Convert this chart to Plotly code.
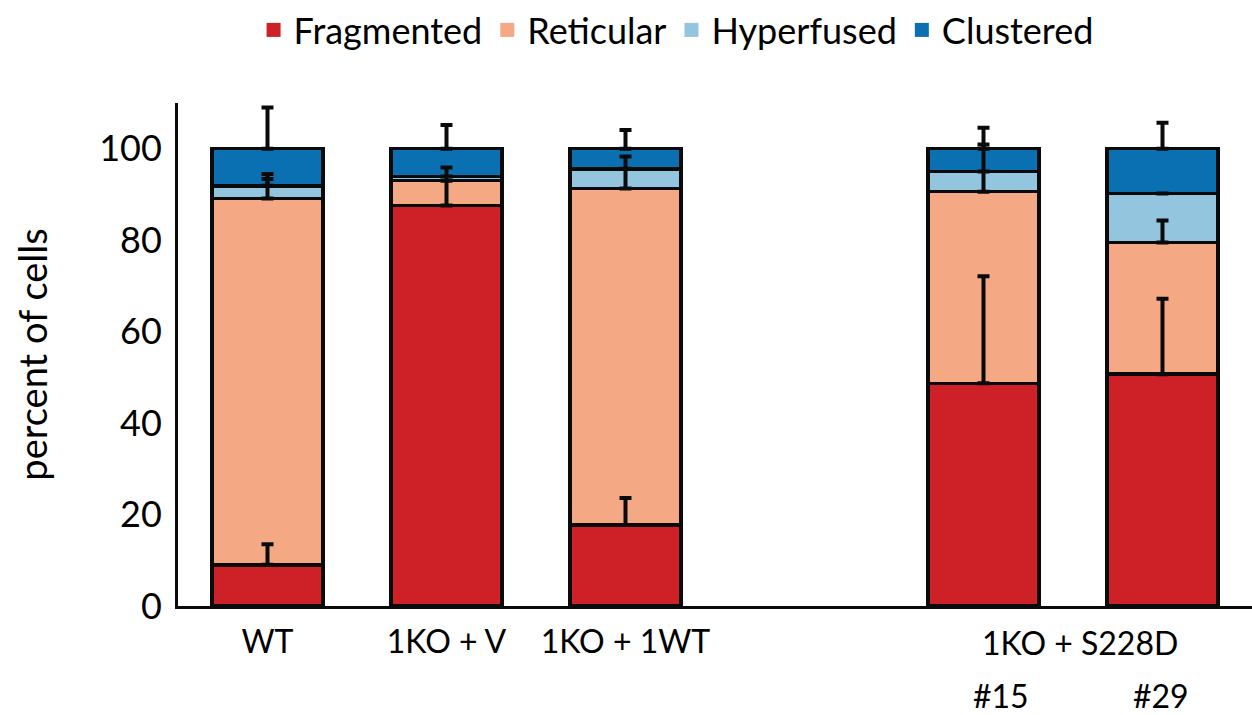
import plotly.graph_objects as go

# ---- data ----
positions = [0, 1, 2, 4, 5]            # slot 3 is an empty gap
tick_labels = ["WT", "1KO + V", "1KO + 1WT"]
group_label = "1KO + S228D"
clone_labels = ["#15", "#29"]

fragmented = [9.0, 87.6, 17.7, 48.7, 50.7]
reticular = [80.1, 5.4, 73.6, 41.9, 28.8]
hyperfused = [2.8, 0.9, 4.3, 4.4, 10.7]
clustered = [8.1, 6.1, 4.4, 5.0, 9.8]

fragmented_err = [4.5, 8.3, 5.9, 23.4, 16.5]
reticular_err = [4.3, None, 7.0, 10.3, 4.8]
hyperfused_err = [2.6, None, None, None, None]
clustered_err = [9.0, 5.2, 4.1, 4.6, 5.7]

series = [
    ("Fragmented", fragmented, fragmented_err, "#CD2027"),
    ("Reticular", reticular, reticular_err, "#F4A884"),
    ("Hyperfused", hyperfused, hyperfused_err, "#93C5DE"),
    ("Clustered", clustered, clustered_err, "#0B70B2"),
]

FONT = "Lato"
INK = "#0a0a0a"

fig = go.Figure()

# stacked bars
for name, vals, err, col in series:
    fig.add_trace(go.Bar(
        x=positions, y=vals, name=name, showlegend=False,
        marker=dict(color=col, line=dict(color=INK, width=3.5)),
        width=0.62,
    ))

# error bars drawn on top of all bars (at cumulative segment tops)
cum = [0.0] * len(positions)
for name, vals, err, col in series:
    cum = [c + v for c, v in zip(cum, vals)]
    fig.add_trace(go.Scatter(
        x=positions, y=cum, mode="markers", showlegend=False, hoverinfo="skip",
        marker=dict(size=1, opacity=0),
        error_y=dict(type="data", symmetric=False, array=err,
                     arrayminus=[0] * len(positions),
                     color=INK, thickness=4, width=6),
    ))

# legend-only entries (plain squares)
for name, vals, err, col in series:
    fig.add_trace(go.Scatter(
        x=[None], y=[None], mode="markers", name=name,
        marker=dict(symbol="square", size=14, color=col),
    ))

annotations = [
    dict(x=4.54, y=-0.072, xref="x", yref="paper", text=group_label,
         showarrow=False, yanchor="middle", font=dict(size=32, family=FONT, color="black")),
]
for p, lab in zip([4.10, 4.99], clone_labels):
    annotations.append(dict(x=p, y=-0.178, xref="x", yref="paper", text=lab,
                            showarrow=False, yanchor="middle",
                            font=dict(size=32, family=FONT, color="black")))

fig.update_layout(
    barmode="stack",
    width=1252, height=715,
    margin=dict(l=178, r=0, t=103, b=109),
    paper_bgcolor="white", plot_bgcolor="white",
    font=dict(family=FONT, color="black"),
    legend=dict(orientation="h", xref="container", yref="container",
                x=0.54, xanchor="center", y=1.0, yanchor="top",
                traceorder="normal",
                font=dict(size=36, family=FONT, color="black"),
                itemwidth=30),
    annotations=annotations,
)
fig.update_xaxes(
    range=[-0.5, 5.5], tickmode="array", tickvals=[0, 1, 2], ticktext=tick_labels,
    showline=True, linecolor=INK, linewidth=3, ticks="", showgrid=False,
    zeroline=False, tickfont=dict(size=32, family=FONT, color="black"),
    ticklabelstandoff=6,
)
fig.update_yaxes(
    range=[0, 110], tickvals=[0, 20, 40, 60, 80, 100],
    showline=True, linecolor=INK, linewidth=3, ticks="", showgrid=False,
    zeroline=False, tickfont=dict(size=36, family=FONT, color="black"),
    ticklabelstandoff=6,
    title=dict(text="percent of cells", font=dict(size=38, family=FONT, color="black"),
               standoff=40),
)

fig.write_html("out.html")
